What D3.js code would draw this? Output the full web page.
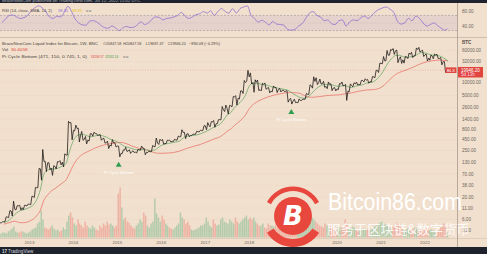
<!DOCTYPE html>
<html><head><meta charset="utf-8">
<script src="https://cdn.jsdelivr.net/npm/d3@7"></script>
<style>html,body{margin:0;padding:0;background:#f2e0ce;overflow:hidden}svg{display:block}</style>
</head><body><svg id="c" width="487" height="254"></svg>
<script>
// ---------------- DATA (monthly, May 2012 .. Jul 2022) ----------------
const firstMonth = [2012, 4];          // May 2012 (JS month index)
const lastDay = [2022, 6, 12];         // last weekly bar: 12 Jul 2022
const priceClose = [5.2,6.7,9.4,10.2,12.4,11.2,12.6,13.5,
 20.4,33.4,93,139,129,97,106,135,133,198,1130,750,
 830,570,460,445,630,640,585,480,385,340,378,320,
 217,254,244,236,230,263,284,230,236,314,378,430,
 369,437,416,448,531,673,624,575,609,700,745,965,
 970,1190,1080,1350,2300,2480,2870,4700,4340,6450,10200,13800,
 10200,10300,6900,9240,7490,6390,7730,7030,6630,6370,4040,3740,
 3460,3850,4100,5350,8550,10800,10100,9600,8300,9150,7550,7200,
 9350,8600,6430,8650,9450,9140,11350,11650,10780,13800,19700,28950,
 33100,45200,58800,57700,37300,35000,41500,47100,43800,61300,57000,46300,
 38500,43200,45500,37700,31800,19900,19946.2];
const priceHigh = [5.2,6.8,9.5,16.0,12.5,12.8,12.8,13.7,
 21,33.8,95,266,140,130,110,137,145,210,1240,1150,
 1000,850,710,540,630,680,635,600,490,420,455,385,
 320,260,300,262,248,267,320,286,244,330,495,465,
 460,440,440,465,552,780,680,625,615,715,755,975,
 1150,1210,1290,1350,2760,2980,2920,4750,4980,6470,11400,19800,
 17200,11800,11700,9750,9960,7750,8450,7760,7400,6750,6550,4300,
 4100,4180,4130,5620,9000,13900,13200,12300,10900,10500,9500,7750,
 9580,10500,9200,9450,10050,10400,11450,12470,12050,14100,19850,29300,
 41900,58300,61800,64800,59500,41300,42300,50500,52900,67000,69000,59000,
 47900,45800,48200,47400,39800,31900,22500];
const priceLow = [4.9,5.2,6.5,7.1,9.9,9.8,10.0,12.3,
 13.2,19.5,33,50,80,88,65,92,115,103,195,450,
 730,400,440,360,420,550,570,440,375,280,320,305,
 178,212,240,215,226,220,256,199,225,236,310,350,
 355,367,400,410,441,530,480,535,570,605,690,740,
 780,920,890,1080,1340,2100,1830,2700,2980,4150,5600,10900,
 9400,6000,6600,6450,7050,5800,6120,5880,6100,6200,3500,3150,
 3400,3390,3800,4100,5330,7500,9100,9400,7800,7300,6550,6450,
 6900,8450,3850,6150,8100,8900,9000,10550,9850,10400,13200,17600,
 28150,33400,45000,47000,30000,28800,29300,37600,39600,43300,53300,42000,
 32900,34300,37200,37600,26700,17600,18900];
const piGreen = [5.0,5.33,6.21,7.79,9.02,9.84,10.39,11.35,
 12.88,17.21,29.7,69.4,85.4,92.8,91.9,97.9,107.8,125,249,431,
 569,596,594,550,533,558,577,561,524,470,437,405,
 354,315,300,279,265,257,264,261,252,256,287,331,
 357,371,386,400,420,496,550,559,575,596,637,694,
 769,862,947,1037,1305,1732,1985,2617,3106,3830,5074,8350,
 9785,9658,9441,8965,8812,8148,7835,7461,7177,6937,6430,5529,
 4908,4510,4325,4581,5478,6805,8058,8930,9217,8980,8789,8298,
 8332,8783,8096,7800,8295,8693,8992,9853,10132,10716,12625,15719,
 21917,29864,37994,44266,44838,41756,39362,41387,42744,47614,51866,51085,
 47757,45362,44253,43344,39435,34507,32332.14];
const piRed = [4.55,4.81,5.13,5.38,5.06,4.93,5.01,5.39,
 6.01,7.17,9.73,16.9,22.5,27.6,31.8,37.0,43.1,50.6,74.9,114,
 156,188,216,238,262,289,312,333,350,363,376,387,
 391,378,352,321,301,283,274,262,243,226,217,216,
 218,220,223,232,243,262,283,300,319,336,359,388,
 421,455,490,530,603,711,814,985,1156,1386,1735,2450,
 3049,3480,3887,4239,4609,4891,5188,5429,5627,5823,5898,5878,
 5796,5602,5053,4676,4572,4597,4726,4835,4984,5049,5133,5168,
 5265,5478,5627,5804,6082,6357,6581,6794,6854,6919,7207,7813,
 9104,10971,13316,15730,17532,18963,20319,22117,23905,26284,28712,30640,
 32085,33277,34270,34700,34300,33700,33208.57];
const rsi = [51,60,70,71,66,62,64,70,
 82,90,95,90,80,66,62,68,66,78,94,80,
 60,50,45,44,55,56,52,44,38,36,42,37,
 30,37,41,38,39,45,53,46,50,60,66,64,
 58,62,63,66,70,78,68,62,66,72,74,80,
 76,82,70,80,88,80,76,88,76,88,92,95,
 70,62,52,57,52,45,54,47,46,44,33,31,
 33,42,48,62,76,80,70,66,56,58,48,46,
 56,58,42,53,58,56,64,68,62,70,80,86,
 90,92,86,78,55,47,50,62,56,68,62,50,
 42,46,50,43,36,31,35];
// volume in thousands, two bars per month (last month: one)
const volume = [24,30,30,24,36,42,54,66,36,30,30,36,36,30,24,30,
 36,48,54,60,84,96,162,108,60,54,48,60,72,54,42,48,36,42,60,48,96,132,150,120,
 84,72,108,84,72,60,96,72,60,54,72,60,48,42,72,60,84,72,96,78,84,72,60,72,
 264,300,180,108,120,96,90,72,60,54,72,84,108,96,150,132,72,60,84,96,234,144,120,96,
 132,108,84,72,60,54,48,60,72,84,150,120,108,84,96,72,48,42,48,54,60,72,72,84,
 120,96,72,60,108,84,72,78,108,120,96,90,84,108,96,84,120,96,84,96,108,120,132,108,
 120,108,120,96,84,72,72,84,60,54,84,72,72,66,78,60,54,48,36,42,96,108,72,60,
 48,42,54,60,48,54,84,72,108,96,120,108,96,84,72,66,60,84,72,60,66,54,48,42,
 54,60,60,54,108,84,60,54,66,60,42,36,42,54,54,48,48,42,48,54,66,72,78,90,
 96,84,78,72,60,54,66,60,90,78,66,54,48,42,54,48,48,54,60,54,48,42,42,48,
 54,48,42,48,42,36,36,42,60,66,84,72,30.405];
const yearLabels = ["2013","2014","2015","2016","2017","2018","2019","2020","2021","2022"];
const priceTicks = [60000,32000,10000,5000,2600,1400,800,450,250,130,70,38,20,11,6,3.2];
const priceTickLabels = ["60000.00","32000.00","10000.00","5000.00","2600.00","1400.00","800.00","450.00","250.00","130.00","70.00","38.00","20.00","11.00","6.00","3.20"];
const rsiTicks = [80,40];
const rsiBands = [70,50,30];
const signalDates = ["2015-01-12","2018-12-17"];
const signalPrice = [178,3150];
const lastPrice = 19946.20;

// ---------------- SETUP ----------------
const W = 487, H = 254, axisX = 457.5;
const svg = d3.select("#c");
const font = "'Liberation Sans', Arial, sans-serif";
const months = d3.timeMonth.range(new Date(firstMonth[0], firstMonth[1], 1), new Date(2022, 7, 1));
const endOf = i => i === months.length - 1 ? new Date(lastDay[0], lastDay[1], lastDay[2]) : months[i + 1];

const x = d3.scaleTime().domain([new Date(2013,0,1), new Date(2022,0,1)]).range([29.5, 425]);
const y = d3.scaleLog().domain([2.15, 115000]).range([238, 38]);
const yR = d3.scaleLinear().domain([13, 100]).range([37, 4]);
const yV = d3.scaleLinear().domain([0, 300]).range([237.5, 187.5]);

svg.append("rect").attr("width", W).attr("height", H).attr("fill", "#f2e0ce");
const defs = svg.append("defs");
defs.append("clipPath").attr("id","cm").append("rect").attr("x",0).attr("y",38).attr("width",axisX).attr("height",200);
defs.append("clipPath").attr("id","cr").append("rect").attr("x",0).attr("y",4).attr("width",axisX).attr("height",33);

// ---------------- RSI PANE ----------------
const rp = svg.append("g").attr("clip-path","url(#cr)");
rp.append("rect").attr("x",0).attr("width",axisX).attr("y",yR(70)).attr("height",yR(30)-yR(70)).attr("fill","rgba(126,87,194,0.10)");
rsiBands.forEach((b,i)=>rp.append("line").attr("x1",0).attr("x2",axisX).attr("y1",yR(b)).attr("y2",yR(b))
  .attr("stroke", i===1 ? "rgba(120,123,134,0.35)" : "rgba(120,123,134,0.7)").attr("stroke-width",0.6).attr("stroke-dasharray", i===1 ? "1,1.5" : "2,1.5"));
const rsiLine = d3.line().x((d,i)=>x(new Date(months[i].getTime() + (endOf(i)-months[i])/2))).y(d=>yR(d)).curve(d3.curveMonotoneX);
rp.append("path").attr("d", rsiLine(rsi)).attr("fill","none").attr("stroke","#8e6fd0").attr("stroke-width",0.8);

// ---------------- MAIN PANE ----------------
const mp = svg.append("g").attr("clip-path","url(#cm)");
priceTicks.forEach(v=>mp.append("line").attr("x1",0).attr("x2",axisX).attr("y1",y(v)).attr("y2",y(v)).attr("stroke","rgba(120,100,80,0.05)").attr("stroke-width",0.6));
volume.forEach((v,j)=>{
  const i = Math.floor(j/2), h = j%2;
  const t0 = months[i], t1 = endOf(i);
  const frac = i === months.length-1 ? 0.5 : (h + 0.5)/2;
  const t = new Date(t0.getTime() + (t1 - t0) * frac);
  const prev = i === 0 ? priceLow[0] : priceClose[i-1];
  const up = priceClose[i] >= prev;
  mp.append("rect").attr("x", x(t)-0.75).attr("width",1.5).attr("y", yV(v)).attr("height", yV(0)-yV(v))
    .attr("fill", up ? "rgba(70,170,115,0.36)" : "rgba(232,88,78,0.33)");
});
mp.append("line").attr("x1",0).attr("x2",axisX).attr("y1",y(lastPrice)).attr("y2",y(lastPrice))
  .attr("stroke","rgba(225,70,60,0.45)").attr("stroke-width",0.6).attr("stroke-dasharray","1,1.5");
const maLine = d3.line().x((d,i)=>x(endOf(i))).y(d=>y(d)).curve(d3.curveMonotoneX);
mp.append("path").attr("d", maLine(piRed)).attr("fill","none").attr("stroke","#e8756c").attr("stroke-width",0.8);
mp.append("path").attr("d", maLine(piGreen)).attr("fill","none").attr("stroke","#5aa45e").attr("stroke-width",0.7);
const pts = [];
months.forEach((t0,i)=>{
  const t1 = endOf(i), open = i===0 ? priceLow[0] : priceClose[i-1], c = priceClose[i];
  const up = c >= open, dt = t1 - t0;
  if (i===0) pts.push([t0, open]);
  pts.push([new Date(t0.getTime()+dt*0.33), up ? priceLow[i] : priceHigh[i]]);
  pts.push([new Date(t0.getTime()+dt*0.66), up ? priceHigh[i] : priceLow[i]]);
  pts.push([t1, c]);
});
mp.append("path").attr("d", d3.line().x(d=>x(d[0])).y(d=>y(d[1]))(pts)).attr("fill","none")
  .attr("stroke","#1f1d1b").attr("stroke-width",0.8).attr("stroke-linejoin","round");
signalDates.forEach((s,k)=>{
  const cx = x(new Date(s)), top = y(signalPrice[k]) + 5;
  mp.append("path").attr("d", `M${cx},${top} L${cx+3},${top+5} L${cx-3},${top+5} Z`).attr("fill","#2f9e50");
  mp.append("text").attr("x",cx).attr("y",top+12).attr("text-anchor","middle").attr("font-family",font)
    .attr("font-size",4.2).attr("fill","#ffffff").text("Pi Cycle Bottom");
});

// ---------------- FRAME ----------------
svg.append("line").attr("x1",0).attr("x2",W).attr("y1",37.5).attr("y2",37.5).attr("stroke","#c8b6a5").attr("stroke-width",0.8);
svg.append("line").attr("x1",0).attr("x2",W).attr("y1",238.5).attr("y2",238.5).attr("stroke","#d3c1b0").attr("stroke-width",0.6);
svg.append("line").attr("x1",axisX).attr("x2",axisX).attr("y1",3).attr("y2",247).attr("stroke","#a8998b").attr("stroke-width",0.8);

const ax = svg.append("g").attr("font-family",font).attr("font-size",4.6).attr("fill","#6e6660");
ax.append("text").attr("x",462).attr("y",43.5).attr("font-weight","bold").attr("fill","#57504a").text("BTC");
priceTicks.forEach((v,i)=>ax.append("text").attr("x",462).attr("y",y(v)+1.6).text(priceTickLabels[i]));
rsiTicks.forEach(v=>ax.append("text").attr("x",462).attr("y",yR(v)+1.6).text(v.toFixed(2)));
yearLabels.forEach(l=>ax.append("text").attr("x",x(new Date(+l,0,1))).attr("y",243.5).attr("text-anchor","middle").attr("font-size",4.4).text(l));

const ty = y(lastPrice);
svg.append("rect").attr("x",445.5).attr("y",ty-2.8).attr("width",11).attr("height",5.6).attr("fill","#e0463f");
svg.append("text").attr("x",451).attr("y",ty+1.5).attr("text-anchor","middle").attr("font-family",font).attr("font-size",4.2).attr("fill","#fff").text("BLX");
svg.append("rect").attr("x",458).attr("y",ty-3.2).attr("width",25).attr("height",10.5).attr("fill","#e0463f");
svg.append("text").attr("x",461).attr("y",ty+1.4).attr("font-family",font).attr("font-size",4.5).attr("fill","#fff").text("19946.20");
svg.append("text").attr("x",461).attr("y",ty+6.2).attr("font-family",font).attr("font-size",4.5).attr("fill","#fde").text("5d 13h");

// legends (widths fitted to the reference)
const lg = svg.append("g").attr("font-family",font).attr("font-size",4.1).attr("fill","#4a4440");
const lt = (t,xx,yy,len,col)=>{ const e = lg.append("text").attr("x",xx).attr("y",yy).text(t);
  if (len) e.attr("textLength",len).attr("lengthAdjust","spacingAndGlyphs"); if (col) e.attr("fill",col); return e; };
lt("RSI (14, close, SMA, 14, 2)",2,11.5,50);
lt("38.35",58,11.5,10,"#8e6fd0");
lt("39.93",72,11.5,10,"#e3c21a");
lt("⌀  ⌀",86,11.5,0,"#777");
lt("BraveNewCoin Liquid Index for Bitcoin, 1W, BNC",2,45,96);
[["O20847.58",103.3],["H20847.58",123.3],["L19687.47",145.7],["C19946.20",167.7]].forEach(d=>lt(d[0],d[1],45,18));
lt("−894.08 (−4.29%)",189,45,31);
lt("Vol",2,51,6);
lt("30.405K",11,51,17,"#e0463f");
lt("Pi Cycle Bottom (471, 150, 0.745, 1, 0)",2,58,85);
lt("33208.57",90.7,58,13,"#e0463f");
lt("32332.14",105.3,58,13,"#3f9a45");
lt("⌀  ⌀",123,58,0,"#777");

svg.append("rect").attr("x",0).attr("y",0).attr("width",W).attr("height",3).attr("fill","#1e222d");
svg.append("text").attr("x",2).attr("y",2).attr("font-family",font).attr("font-size",4.4).attr("fill","#b2b5be").text("BraveNewCoin published on TradingView.com, Jul 12, 2022 11:02 UTC");
svg.append("rect").attr("x",0).attr("y",247).attr("width",W).attr("height",7).attr("fill","#1e222d");
svg.append("text").attr("x",2).attr("y",252.5).attr("font-family",font).attr("font-size",4.6).attr("font-weight","bold").attr("fill","#d1d4dc").text("17");
svg.append("text").attr("x",8).attr("y",252.5).attr("font-family",font).attr("font-size",4.6).attr("fill","#d1d4dc").text("TradingView");

// ---------------- WATERMARK ----------------
const wm = svg.append("g").attr("transform","translate(293,216)");
const arc = d3.arc();
wm.append("path").attr("d", arc({innerRadius:25,outerRadius:29.5,startAngle:-1.08,endAngle:1.08})).attr("fill","#e8473e");
wm.append("path").attr("d", arc({innerRadius:23,outerRadius:31,startAngle:Math.PI-1.0,endAngle:Math.PI+1.0,cornerRadius:2})).attr("fill","#e8473e");
wm.append("circle").attr("r",19).attr("fill","#e8473e");
wm.append("text").attr("y",9).attr("text-anchor","middle").attr("font-family","'DejaVu Sans', sans-serif").attr("font-weight","bold").attr("font-style","italic").attr("font-size",26).attr("fill","#fff").text("B");
svg.append("text").attr("x",328).attr("y",210).attr("font-family",font).attr("font-size",23).attr("fill","#ffffff")
  .attr("textLength",134).attr("lengthAdjust","spacingAndGlyphs").text("Bitcoin86.com");
svg.append("text").attr("x",327).attr("y",234).attr("font-family","'Noto Sans CJK SC', sans-serif").attr("font-size",13).attr("fill","rgba(255,255,255,0.9)")
  .attr("textLength",143).attr("lengthAdjust","spacingAndGlyphs").text("服务于区块链&数字货币");
</script>
</body></html>
